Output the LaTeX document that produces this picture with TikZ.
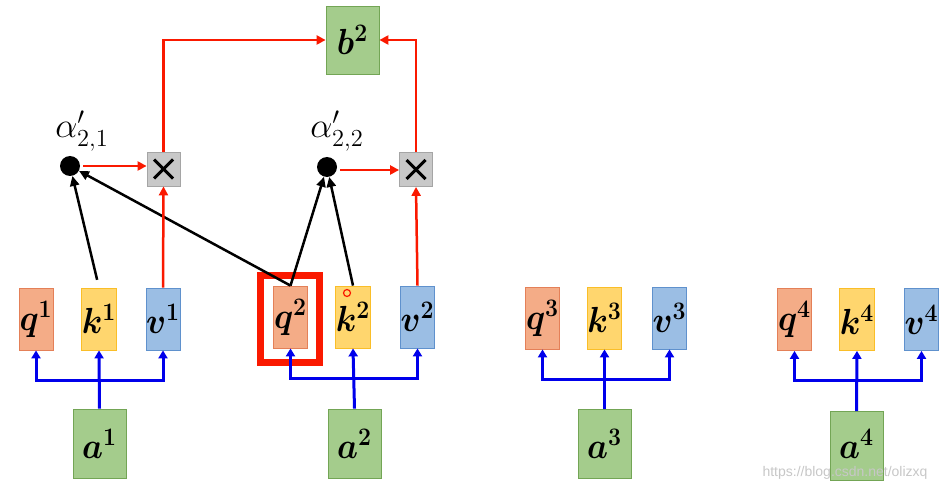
\documentclass[tikz,border=0pt]{standalone}
\usepackage{bm}
\usepackage{fontspec}
\newfontfamily\wmfont{Liberation Sans}
\usetikzlibrary{arrows.meta}
\definecolor{qfill}{RGB}{244,172,135}
\definecolor{qdraw}{RGB}{228,128,88}
\definecolor{kfill}{RGB}{255,214,110}
\definecolor{kdraw}{RGB}{250,190,40}
\definecolor{vfill}{RGB}{155,190,228}
\definecolor{vdraw}{RGB}{95,145,205}
\definecolor{gfill}{RGB}{164,204,140}
\definecolor{gdraw}{RGB}{115,165,85}
\definecolor{xfill}{RGB}{200,200,200}
\definecolor{xdraw}{RGB}{165,165,165}
\definecolor{rd}{RGB}{250,25,0}
\definecolor{bl}{RGB}{0,0,235}
\newcommand{\bx}[2]{\scalebox{1.6}[1.75]{\huge$\bm{#1}^{\bm{#2}}$}}
\begin{document}
\begin{tikzpicture}[x=1pt,y=-1pt,
  box/.style={rectangle,inner sep=0pt,line width=0.8pt},
  qbox/.style={box,fill=qfill,draw=qdraw,minimum width=34pt,minimum height=62pt},
  kbox/.style={box,fill=kfill,draw=kdraw,minimum width=34pt,minimum height=62pt},
  vbox/.style={box,fill=vfill,draw=vdraw,minimum width=34pt,minimum height=62pt},
  gbox/.style={box,fill=gfill,draw=gdraw,minimum width=53pt,minimum height=69pt},
  xbox/.style={rectangle,inner sep=0pt,fill=xfill,draw=xdraw,line width=0.8pt,minimum width=33pt,minimum height=34pt},
  dotnode/.style={circle,fill=black,inner sep=0pt,minimum size=20pt},
  alab/.style={inner sep=0pt},
  blarrow/.style={draw=bl,line width=3pt,{Triangle[width=9pt,length=8pt]}-{Triangle[width=9pt,length=8pt]}},
  blup/.style={draw=bl,line width=3pt,-{Triangle[width=9pt,length=8pt]}},
  rdarrow/.style={draw=rd,line width=2.5pt,-{Triangle[width=9pt,length=9pt]}},
  bkarrow/.style={draw=black,line width=2.5pt,-{Triangle[width=9pt,length=10pt]}},
]
\useasboundingbox (0,0) rectangle (948,489);
% group 1
\node[qbox] (q1) at (36,319) {\bx{q}{1}};
\node[kbox] (k1) at (99,319) {\bx{k}{1}};
\node[vbox] (v1) at (163,319) {\bx{v}{1}};
\node[gbox] (a1) at (99.5,443.5) {\bx{a}{1}};
% group 2
\node[qbox] (q2) at (290.5,317) {\bx{q}{2}};
\node[kbox] (k2) at (353,317) {\bx{k}{2}};
\node[vbox] (v2) at (417.5,317) {\bx{v}{2}};
\node[gbox] (a2) at (354.5,443.5) {\bx{a}{2}};
% group 3
\node[qbox] (q3) at (542.5,318) {\bx{q}{3}};
\node[kbox] (k3) at (604.5,318) {\bx{k}{3}};
\node[vbox] (v3) at (669.5,318) {\bx{v}{3}};
\node[gbox] (a3) at (604.5,444) {\bx{a}{3}};
% group 4
\node[qbox] (q4) at (794.5,319.5) {\bx{q}{4}};
\node[kbox] (k4) at (857,319.5) {\bx{k}{4}};
\node[vbox] (v4) at (921.5,319.5) {\bx{v}{4}};
\node[gbox] (a4) at (856.5,446) {\raisebox{4pt}{\bx{a}{4}}};
% top
\node[gbox,minimum height=68pt] (b2) at (352.5,40) {\bx{b}{2}};
\node[xbox] (x1) at (163.5,169) {};
\node[xbox] (x2) at (416,169.5) {};
\foreach \n in {x1,x2}{
  \draw[line width=3pt] ([shift={(-9.5,-9.5)}]\n.center) -- ([shift={(9.5,9.5)}]\n.center);
  \draw[line width=3pt] ([shift={(-9.5,9.5)}]\n.center) -- ([shift={(9.5,-9.5)}]\n.center);
}
\node[dotnode] (d1) at (70,166) {};
\node[dotnode] (d2) at (327,167) {};
\node[alab] (l1) at (82,131) {\scalebox{1.7}{\huge$\alpha'_{2,1}$}};
\node[alab] (l2) at (337,131) {\scalebox{1.7}{\huge$\alpha'_{2,2}$}};
% highlight
\node[draw=rd,line width=7pt,inner sep=0pt,minimum width=59pt,minimum height=87pt] (hl) at (290,319) {};
% red cursor ring
\node[draw=rd,circle,line width=1.2pt,inner sep=0pt,minimum size=7pt] (cur) at (347,293) {};
% blue connectors
\coordinate (h1) at (99,380);
\coordinate (h2) at (354,378);
\coordinate (h3) at (605,379);
\coordinate (h4) at (857,380);
\draw[blarrow,line join=miter] (q1.south) -- (q1.south |- h1) -- (v1.south |- h1) -- (v1.south);
\draw[blup] (a1.north) -- (k1.south);
\draw[blarrow,line join=miter] (q2.south) -- (q2.south |- h2) -- (v2.south |- h2) -- (v2.south);
\draw[blup] (a2.north) -- (k2.south);
\draw[blarrow,line join=miter] (q3.south) -- (q3.south |- h3) -- (v3.south |- h3) -- (v3.south);
\draw[blup] (a3.north) -- (k3.south);
\draw[blarrow,line join=miter] (q4.south) -- (q4.south |- h4) -- (v4.south |- h4) -- (v4.south);
\draw[blup] (a4.north) -- (k4.south);
% black arrows
\draw[bkarrow,shorten <=8pt] (k1.north) -- (d1);
\draw[bkarrow] (q2.north) -- (d1);
\draw[bkarrow] (q2.north) -- (d2);
\draw[bkarrow] (k2.north) -- (d2);
% red arrows
\draw[rdarrow] (v1.north) -- (x1.south);
\draw[rdarrow] (v2.north) -- (x2.south);
\draw[rdarrow,shorten <=3pt] (d1.east) -- (d1.east -| x1.west);
\draw[rdarrow,shorten <=3pt] (d2.east |- 0,170) -- (x2.west |- 0,170);
\draw[rdarrow] (x1.north) |- (b2.west);
\draw[rdarrow] (x2.north) |- (b2.east);
% watermark
\node[text=black!22,font=\wmfont\fontsize{14}{15}\selectfont,inner sep=0pt] (wm) at (845,473) {https://blog.csdn.net/olizxq};
\end{tikzpicture}
\end{document}
